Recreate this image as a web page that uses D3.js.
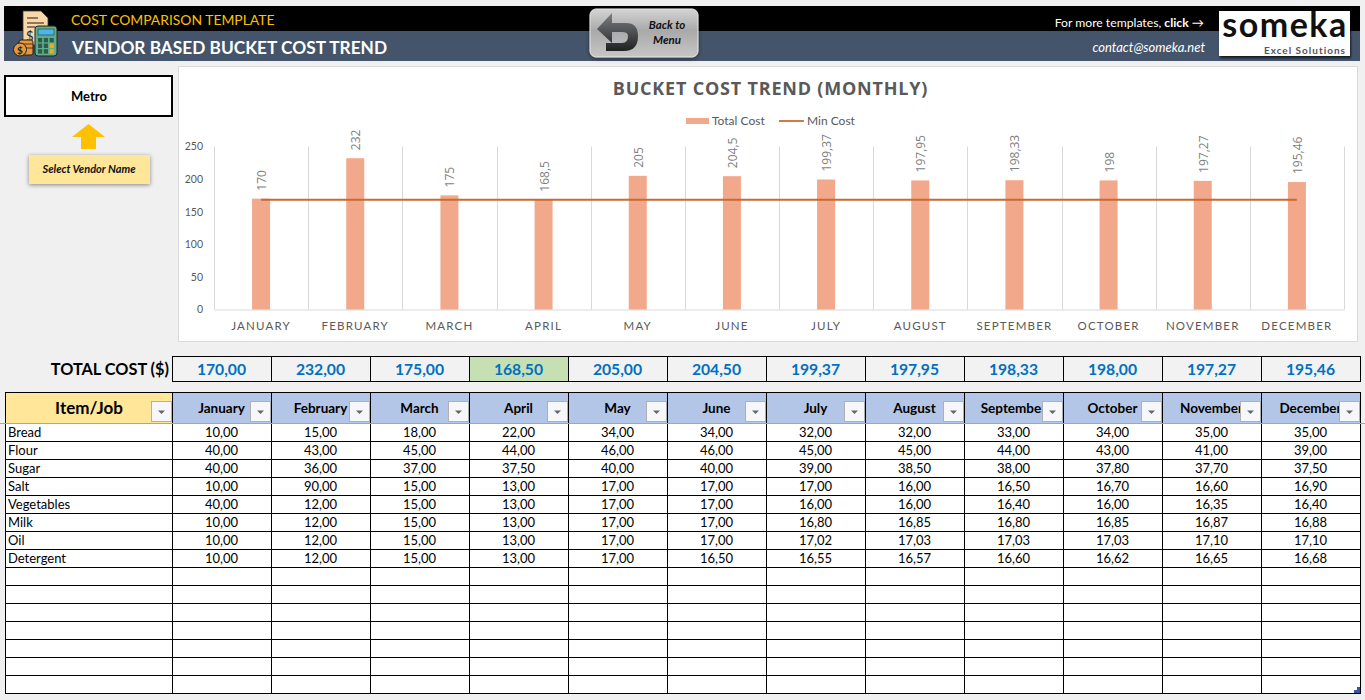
<!DOCTYPE html>
<html>
<head>
<meta charset="utf-8">
<script src="https://cdn.jsdelivr.net/npm/d3@7"></script>
<style>
  html, body { margin: 0; padding: 0; background: #f0f0f0; overflow: hidden; }
  svg { display: block; }
  text { font-family: Lato, "Open Sans", sans-serif; }
</style>
</head>
<body>
<svg id="page" width="1365" height="700"></svg>
<script>
// Chart data
var months = ["January", "February", "March", "April", "May", "June", "July", "August", "September", "October", "November", "December"];
var totalCost = [170, 232, 175, 168.5, 205, 204.5, 199.37, 197.95, 198.33, 198, 197.27, 195.46];
var minCost = [168.5, 168.5, 168.5, 168.5, 168.5, 168.5, 168.5, 168.5, 168.5, 168.5, 168.5, 168.5];
var yTicks = [0, 50, 100, 150, 200, 250];

// Table data
var items = ["Bread", "Flour", "Sugar", "Salt", "Vegetables", "Milk", "Oil", "Detergent"];
var bread = [10, 15, 18, 22, 34, 34, 32, 32, 33, 34, 35, 35];
var flour = [40, 43, 45, 44, 46, 46, 45, 45, 44, 43, 41, 39];
var sugar = [40, 36, 37, 37.5, 40, 40, 39, 38.5, 38, 37.8, 37.7, 37.5];
var salt = [10, 90, 15, 13, 17, 17, 17, 16, 16.5, 16.7, 16.6, 16.9];
var vegetables = [40, 12, 15, 13, 17, 17, 16, 16, 16.4, 16, 16.35, 16.4];
var milk = [10, 12, 15, 13, 17, 17, 16.8, 16.85, 16.8, 16.85, 16.87, 16.88];
var oil = [10, 12, 15, 13, 17, 17, 17.02, 17.03, 17.03, 17.03, 17.1, 17.1];
var detergent = [10, 12, 15, 13, 17, 16.5, 16.55, 16.57, 16.6, 16.62, 16.65, 16.68];
var itemValues = [bread, flour, sugar, salt, vegetables, milk, oil, detergent];
var emptyRows = 7;

var svg = d3.select("#page");
var defs = svg.append("defs");

var comma = (v) => String(v).replace(".", ",");
var comma2 = (v) => v.toFixed(2).replace(".", ",");

function addShadow(id, dx, dy, blur, opacity) {
  defs.append("filter").attr("id", id)
    .attr("x", "-20%").attr("y", "-20%").attr("width", "140%").attr("height", "150%")
    .append("feDropShadow")
    .attr("dx", dx).attr("dy", dy).attr("stdDeviation", blur)
    .attr("flood-color", "#000").attr("flood-opacity", opacity);
}
addShadow("softShadow", 0, 1, 2, 0.45);
addShadow("logoShadow", 1, 2, 1, 0.7);

function addGradient(id, stops) {
  var grad = defs.append("linearGradient").attr("id", id)
    .attr("x1", 0).attr("y1", 0).attr("x2", 0).attr("y2", 1);
  stops.forEach((s) => grad.append("stop").attr("offset", s[0]).attr("stop-color", s[1]));
}
addGradient("backGrad", [["0%", "#d4d4d4"], ["45%", "#a9a9a9"], ["100%", "#c6c6c6"]]);
addGradient("arrowGrad", [["0%", "#7d8083"], ["100%", "#1f2022"]]);

// Header band
svg.append("rect").attr("x", 4).attr("y", 6).attr("width", 1356).attr("height", 25).attr("fill", "#000");
svg.append("rect").attr("x", 4).attr("y", 31).attr("width", 1356).attr("height", 30).attr("fill", "#44546a");

svg.append("text").attr("x", 71).attr("y", 25)
  .attr("font-size", 13.9).attr("fill", "#ffc000")
  .text("COST COMPARISON TEMPLATE");
svg.append("text").attr("x", 72).attr("y", 54)
  .attr("font-size", 17.3).attr("font-weight", 700).attr("fill", "#fff")
  .text("VENDOR BASED BUCKET COST TREND");

svg.append("text").attr("x", 1204).attr("y", 27).attr("text-anchor", "end")
  .attr("font-size", 12.2).attr("fill", "#fff")
  .html('For more templates, <tspan font-weight="700">click</tspan> →');
svg.append("text").attr("x", 1205).attr("y", 52).attr("text-anchor", "end")
  .attr("font-size", 13).attr("font-style", "italic").attr("fill", "#fff")
  .text("contact@someka.net");

// Icon on the left of the header
var icon = svg.append("g");
icon.append("path").attr("d", "M23 11H41L48 18V45H23Z").attr("fill", "#fad7a8").attr("stroke", "#3a3a3a").attr("stroke-width", 0.8);
icon.append("path").attr("d", "M27 18H38M27 23H44M27 27H35").attr("stroke", "#6b5a3e").attr("stroke-width", 1.3);
icon.append("text").attr("x", 26).attr("y", 41).attr("font-size", 13).attr("fill", "#222").text("$");
icon.append("rect").attr("x", 35).attr("y", 26).attr("width", 22).attr("height", 30).attr("rx", 3).attr("fill", "#5fae8b").attr("stroke", "#222");
icon.append("rect").attr("x", 38).attr("y", 29).attr("width", 16).attr("height", 6).attr("fill", "#4fb4e6").attr("stroke", "#222").attr("stroke-width", 0.5);
d3.range(3).forEach((c) => d3.range(3).forEach((r) => {
  icon.append("rect").attr("x", 38 + c * 5.8).attr("y", 38 + r * 5.6).attr("width", 4.2).attr("height", 4.4)
    .attr("fill", c == 2 && r > 0 ? "#f6a623" : "#2d5d4a");
}));
icon.append("rect").attr("x", 19).attr("y", 40).attr("width", 14).attr("height", 15).attr("rx", 2).attr("fill", "#e8973a").attr("stroke", "#222");
icon.append("path").attr("d", "M19 44H33M19 48H33").attr("stroke", "#222").attr("stroke-width", 0.8);
icon.append("circle").attr("cx", 20).attr("cy", 49.5).attr("r", 6.5).attr("fill", "#e8973a").attr("stroke", "#222");
icon.append("text").attr("x", 20).attr("y", 53.5).attr("text-anchor", "middle").attr("font-size", 10).attr("font-weight", 700).attr("fill", "#222").text("$");

// Back to menu button
var back = svg.append("g");
back.append("rect").attr("x", 590).attr("y", 9).attr("width", 108).attr("height", 48).attr("rx", 6)
  .attr("fill", "url(#backGrad)").attr("stroke", "#e6e6e6").attr("filter", "url(#softShadow)");
back.append("path")
  .attr("d", "M597 29L612 13V23H626Q638 23 638 36Q638 51 624 51H606V43H622Q628 43 628 36Q628 32 622 32H612V43Z")
  .attr("fill", "url(#arrowGrad)");
back.append("text").attr("x", 667).attr("y", 29).attr("text-anchor", "middle")
  .attr("font-size", 11.5).attr("font-weight", 700).attr("font-style", "italic").attr("fill", "#111").text("Back to");
back.append("text").attr("x", 667).attr("y", 44).attr("text-anchor", "middle")
  .attr("font-size", 11.5).attr("font-weight", 700).attr("font-style", "italic").attr("fill", "#111").text("Menu");

// Someka logo
svg.append("rect").attr("x", 1219).attr("y", 11).attr("width", 131).attr("height", 45)
  .attr("fill", "#fff").attr("filter", "url(#logoShadow)");
svg.append("text").attr("x", 1285).attr("y", 37).attr("text-anchor", "middle")
  .attr("font-size", 34).attr("font-weight", 700).attr("letter-spacing", 1.5).attr("fill", "#111")
  .text("someka");
svg.append("text").attr("x", 1346).attr("y", 54).attr("text-anchor", "end")
  .attr("font-size", 10).attr("font-weight", 700).attr("letter-spacing", 1).attr("fill", "#555")
  .text("Excel Solutions");

// Vendor selector
svg.append("rect").attr("x", 5).attr("y", 76).attr("width", 167).attr("height", 40)
  .attr("fill", "#fff").attr("stroke", "#000").attr("stroke-width", 2);
svg.append("text").attr("x", 89).attr("y", 101).attr("text-anchor", "middle")
  .attr("font-size", 13).attr("font-weight", 700).attr("fill", "#000").text("Metro");
svg.append("path").attr("d", "M72 137L88.5 124L105 137H96V149H81V137Z").attr("fill", "#ffc000");
svg.append("rect").attr("x", 29).attr("y", 155).attr("width", 121).attr("height", 29)
  .attr("fill", "#ffe699").attr("filter", "url(#softShadow)");
svg.append("text").attr("x", 89).attr("y", 173).attr("text-anchor", "middle")
  .attr("font-size", 11).attr("font-weight", 700).attr("font-style", "italic").attr("fill", "#111")
  .text("Select Vendor Name");

// Chart panel
svg.append("rect").attr("x", 178.5).attr("y", 66.5).attr("width", 1179).attr("height", 275)
  .attr("fill", "#fff").attr("stroke", "#d9d9d9");
svg.append("text").attr("x", 770.5).attr("y", 95).attr("text-anchor", "middle")
  .attr("font-size", 18).attr("font-weight", 700).attr("letter-spacing", 0.8).attr("fill", "#595959")
  .style("font-family", "'Open Sans'")
  .text("BUCKET COST TREND (MONTHLY)");

// Legend
svg.append("rect").attr("x", 686).attr("y", 118).attr("width", 23).attr("height", 6).attr("fill", "#f2a88b");
svg.append("text").attr("x", 712).attr("y", 125).attr("font-size", 12).attr("fill", "#595959").text("Total Cost");
svg.append("line").attr("x1", 779).attr("x2", 804).attr("y1", 121).attr("y2", 121).attr("stroke", "#c55a11").attr("stroke-width", 1.6);
svg.append("text").attr("x", 807).attr("y", 125).attr("font-size", 12).attr("fill", "#595959").text("Min Cost");

// Scales
var x = d3.scaleBand().domain(months).range([214, 1344]);
var y = d3.scaleLinear().domain([0, 250]).range([309.5, 146.5]);

// Vertical gridlines between the months
var gridXs = months.map((m) => x(m)).concat([x.range()[1]]);
svg.append("g").selectAll("line").data(gridXs).join("line")
  .attr("x1", (d) => Math.round(d) + 0.5).attr("x2", (d) => Math.round(d) + 0.5)
  .attr("y1", y(250)).attr("y2", y(0))
  .attr("stroke", "#d9d9d9");

// Axes
var yAxis = d3.axisLeft(y).tickValues(yTicks).tickSize(0).tickPadding(11);
var yG = svg.append("g").attr("transform", "translate(214,0)").call(yAxis);
yG.select(".domain").remove();
yG.selectAll("text").attr("font-size", 10.5).attr("fill", "#595959").style("font-family", "Lato");

var xAxis = d3.axisBottom(x).tickSize(0).tickPadding(12).tickFormat((d) => d.toUpperCase());
var xG = svg.append("g").attr("transform", "translate(0," + y(0) + ")").call(xAxis);
xG.select(".domain").attr("stroke", "#d9d9d9");
xG.selectAll("text").attr("font-size", 11.5).attr("letter-spacing", 1.2).attr("fill", "#595959").style("font-family", "Lato");

// Bars
var barW = 18;
svg.append("g").selectAll("rect").data(totalCost).join("rect")
  .attr("x", (d, i) => x(months[i]) + x.bandwidth() / 2 - barW / 2)
  .attr("y", (d) => y(d))
  .attr("width", barW)
  .attr("height", (d) => y(0) - y(d))
  .attr("fill", "#f2a88b");

// Data labels
svg.append("g").selectAll("text").data(totalCost).join("text")
  .attr("transform", (d, i) => "translate(" + (x(months[i]) + x.bandwidth() / 2 + 5) + "," + (y(d) - 8) + ") rotate(-90)")
  .attr("font-size", 12).attr("fill", "#7f7f7f").style("font-family", "'Open Sans'")
  .text((d) => comma(d));

// Min cost line
var minLine = d3.line()
  .x((d, i) => x(months[i]) + x.bandwidth() / 2)
  .y((d) => y(d));
svg.append("path").datum(minCost).attr("d", minLine)
  .attr("fill", "none").attr("stroke", "#c96a2e").attr("stroke-width", 2);

// Table geometry
var colX = d3.scaleBand().domain(months).range([172, 1360]);
var tableLeft = 5, tableRight = 1360;
var totalTop = 356, totalBottom = 381;
var headTop = 392, headBottom = 423, rowH = 18;
var rowCount = items.length + emptyRows;
var tableBottom = headBottom + rowCount * rowH;

// Total cost row
svg.append("text").attr("x", 169).attr("y", 374.5).attr("text-anchor", "end")
  .attr("font-size", 16.3).attr("font-weight", 700).attr("fill", "#000").text("TOTAL COST ($)");
var lowest = d3.min(totalCost);
svg.append("g").selectAll("rect").data(totalCost).join("rect")
  .attr("x", (d, i) => colX(months[i]) + 0.5).attr("y", totalTop + 0.5)
  .attr("width", colX.bandwidth()).attr("height", totalBottom - totalTop)
  .attr("fill", (d) => d == lowest ? "#c6e0b4" : "#f2f2f2")
  .attr("stroke", "#000");
svg.append("g").selectAll("text").data(totalCost).join("text")
  .attr("x", (d, i) => colX(months[i]) + colX.bandwidth() / 2).attr("y", 374.5)
  .attr("text-anchor", "middle").attr("font-size", 15.7).attr("font-weight", 700).attr("fill", "#0070c0")
  .text((d) => comma2(d));

// Table header
svg.append("rect").attr("x", tableLeft).attr("y", headTop).attr("width", 167).attr("height", headBottom - headTop).attr("fill", "#ffe699");
svg.append("rect").attr("x", 172).attr("y", headTop).attr("width", tableRight - 172).attr("height", headBottom - headTop).attr("fill", "#b4c6e7");
svg.append("rect").attr("x", tableLeft).attr("y", headBottom).attr("width", tableRight - tableLeft).attr("height", tableBottom - headBottom).attr("fill", "#fff");

svg.append("text").attr("x", 89).attr("y", 414).attr("text-anchor", "middle")
  .attr("font-size", 17).attr("font-weight", 700).attr("fill", "#000").text("Item/Job");
svg.append("g").selectAll("text").data(months).join("text")
  .attr("x", (d) => colX(d) + colX.bandwidth() / 2).attr("y", 413)
  .attr("text-anchor", "middle").attr("font-size", 13.5).attr("font-weight", 700).attr("fill", "#000")
  .text((d) => d);

// Filter buttons
var buttonRights = [172].concat(months.map((m) => colX(m) + colX.bandwidth()));
var filters = svg.append("g").selectAll("g").data(buttonRights).join("g")
  .attr("transform", (d) => "translate(" + (d - 20.5) + ",401.5)");
filters.append("rect").attr("width", 20).attr("height", 20).attr("fill", "#f5f7fa").attr("stroke", "#b0b0b0");
filters.append("path").attr("d", "M6.5 9H13.5L10 12.5Z").attr("fill", "#666");

// Table grid
var grid = svg.append("g").attr("stroke", "#000");
var hLines = d3.range(rowCount + 1).map((i) => headBottom + i * rowH);
grid.selectAll("line.h").data(hLines.slice(1)).join("line").attr("class", "h")
  .attr("x1", tableLeft).attr("x2", tableRight + 1).attr("y1", (d) => d + 0.5).attr("y2", (d) => d + 0.5);
var vLines = [tableLeft, 172].concat(months.map((m) => colX(m) + colX.bandwidth()));
grid.selectAll("line.v").data(vLines).join("line").attr("class", "v")
  .attr("x1", (d) => d + 0.5).attr("x2", (d) => d + 0.5).attr("y1", headTop).attr("y2", tableBottom + 1);
grid.append("line").attr("x1", tableLeft).attr("x2", tableRight + 1).attr("y1", headTop + 0.5).attr("y2", headTop + 0.5);
svg.append("line").attr("x1", 0).attr("x2", 1365).attr("y1", headBottom + 0.5).attr("y2", headBottom + 0.5)
  .attr("stroke", "#a6a6a6");

// Table body
items.forEach((item, r) => {
  var baseline = headBottom + r * rowH + 13.5;
  svg.append("text").attr("x", 8).attr("y", baseline)
    .attr("font-size", 13).attr("fill", "#000").text(item);
  svg.append("g").selectAll("text").data(itemValues[r]).join("text")
    .attr("x", (d, i) => colX(months[i]) + colX.bandwidth() / 2).attr("y", baseline)
    .attr("text-anchor", "middle").attr("font-size", 13).attr("fill", "#000")
    .text((d) => comma2(d));
});

// Table resize handle
svg.append("path").attr("d", "M1360 687V693H1354V690H1357V687Z").attr("fill", "#3a55a5");
</script>
</body>
</html>
